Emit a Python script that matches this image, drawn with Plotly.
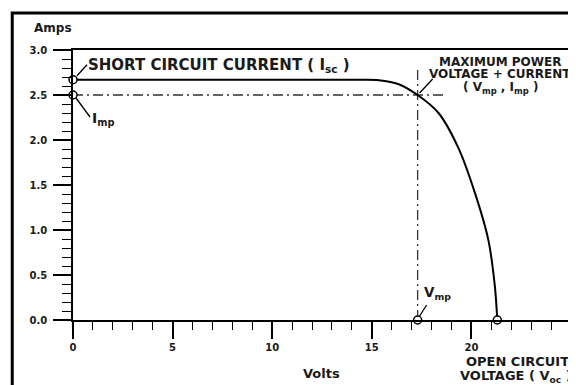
import plotly.graph_objects as go

# ---- data ----
volts = [0, 5, 10, 14.5, 15.35, 16.35, 17.3, 18.35, 19.35, 20.18, 20.85, 21.18, 21.3]
amps = [2.67, 2.67, 2.67, 2.67, 2.665, 2.62, 2.5, 2.3, 1.91, 1.41, 0.89, 0.37, 0.0]

isc = 2.67      # short circuit current
imp = 2.5       # current at maximum power
vmp = 17.3      # voltage at maximum power
voc = 21.3      # open circuit voltage
guide_end_v = 18.7   # where the Imp guide stops
guide_top_i = 2.78   # where the Vmp guide stops

x_tickvals = [0, 5, 10, 15, 20, 25]
y_tickvals = [0.0, 0.5, 1.0, 1.5, 2.0, 2.5, 3.0]
y_ticktext = ["0.0", "0.5", "1.0", "1.5", "2.0", "2.5", "3.0"]

# ---- layout geometry (page pixels; the page body adds an 8px offset) ----
OFF = 8
W, H = 576 - OFF, 385 - OFF
PL, PT, PW, PH = 73, 50, 500, 270          # plot area in page pixels
ML, MT = PL - OFF, PT - OFF
MR, MB = W - ML - PW, H - MT - PH


def px_x(p):
    return (p - PL) / PW


def px_y(p):
    return (PT + PH - p) / PH


FONT = "DejaVu Sans"
INK = "#1a1a1a"
DASHDOT = "10px,4px,2px,4px"

fig = go.Figure()

# guides
fig.add_trace(go.Scatter(x=[0, guide_end_v], y=[imp, imp], mode="lines",
                         line=dict(color="#333", width=1.3, dash=DASHDOT),
                         hoverinfo="skip", showlegend=False))
fig.add_trace(go.Scatter(x=[vmp, vmp], y=[0, guide_top_i], mode="lines",
                         line=dict(color="#333", width=1.3, dash=DASHDOT),
                         hoverinfo="skip", showlegend=False))

# I-V curve
fig.add_trace(go.Scatter(x=volts, y=amps, mode="lines",
                         line=dict(color="black", width=2, shape="spline", smoothing=0.8),
                         cliponaxis=False, showlegend=False))

# key points
fig.add_trace(go.Scatter(x=[0, 0, vmp, voc], y=[isc, imp, 0, 0], mode="markers",
                         marker=dict(symbol="circle", size=8, color="white",
                                     line=dict(color="black", width=1.5)),
                         cliponaxis=False, showlegend=False))

axis_common = dict(
    showline=True, linecolor="black", linewidth=1.5, mirror=True,
    showgrid=False, zeroline=False,
    ticks="outside", tickcolor="black", tickwidth=1.5,
    tickfont=dict(family=FONT, size=10, color=INK, weight="bold"),
)

fig.update_xaxes(range=[0, 25], tickvals=x_tickvals, ticklen=17,
                 minor=dict(dtick=1, ticks="outside", ticklen=8, tickcolor="black", tickwidth=1.3),
                 **axis_common)
fig.update_yaxes(range=[0, 3], tickvals=y_tickvals, ticktext=y_ticktext, ticklen=18,
                 ticklabelstandoff=4,
                 minor=dict(dtick=0.1, ticks="outside", ticklen=9, tickcolor="black", tickwidth=1.3),
                 **axis_common)


# leader lines anchored to data points (pixel offsets, y up)
def leader(xa, ya, x0, y0, x1, y1):
    fig.add_shape(type="line", xref="x", yref="y",
                  xsizemode="pixel", ysizemode="pixel",
                  xanchor=xa, yanchor=ya, x0=x0, y0=y0, x1=x1, y1=y1,
                  line=dict(color="black", width=1.3))


leader(0, isc, 4, 4, 14, 15)
leader(0, imp, 3, -3, 17, -22)
leader(vmp, imp, 2, 2, 15, 16)
leader(vmp, 0, 2, 4, 9, 15)
leader(voc, 0, -1, -5, -7, -30)

# outer frame
fig.add_shape(type="rect", xref="paper", yref="paper",
              x0=px_x(12), x1=px_x(600), y0=px_y(410), y1=px_y(13),
              line=dict(color="black", width=3), fillcolor="rgba(0,0,0,0)")


def label(text, xp, yp, size, xanchor="left"):
    fig.add_annotation(text=text, xref="paper", yref="paper",
                       x=px_x(xp), y=px_y(yp), xanchor=xanchor, yanchor="middle",
                       showarrow=False,
                       font=dict(family=FONT, size=size, color=INK, weight="bold"))


label("Amps", 32, 28, 12)
label("Volts", 322, 373, 13, xanchor="center")
label("SHORT CIRCUIT CURRENT ( I<sub>sc</sub> )", 86, 65, 15)
label("I<sub>mp</sub>", 90, 119, 14)
label("MAXIMUM POWER", 502, 62, 12, xanchor="center")
label("VOLTAGE + CURRENT", 502, 74, 12, xanchor="center")
label("( V<sub>mp</sub> , I<sub>mp</sub> )", 502, 88, 12, xanchor="center")
label("V<sub>mp</sub>", 423, 293, 13.5)
label("OPEN CIRCUIT", 466, 362, 13)
label("VOLTAGE ( V<sub>oc</sub> )", 460, 376, 13)

fig.update_layout(
    width=W, height=H,
    margin=dict(l=ML, r=MR, t=MT, b=MB, pad=0),
    paper_bgcolor="white", plot_bgcolor="white",
    showlegend=False,
)

fig.write_html("out.html")
